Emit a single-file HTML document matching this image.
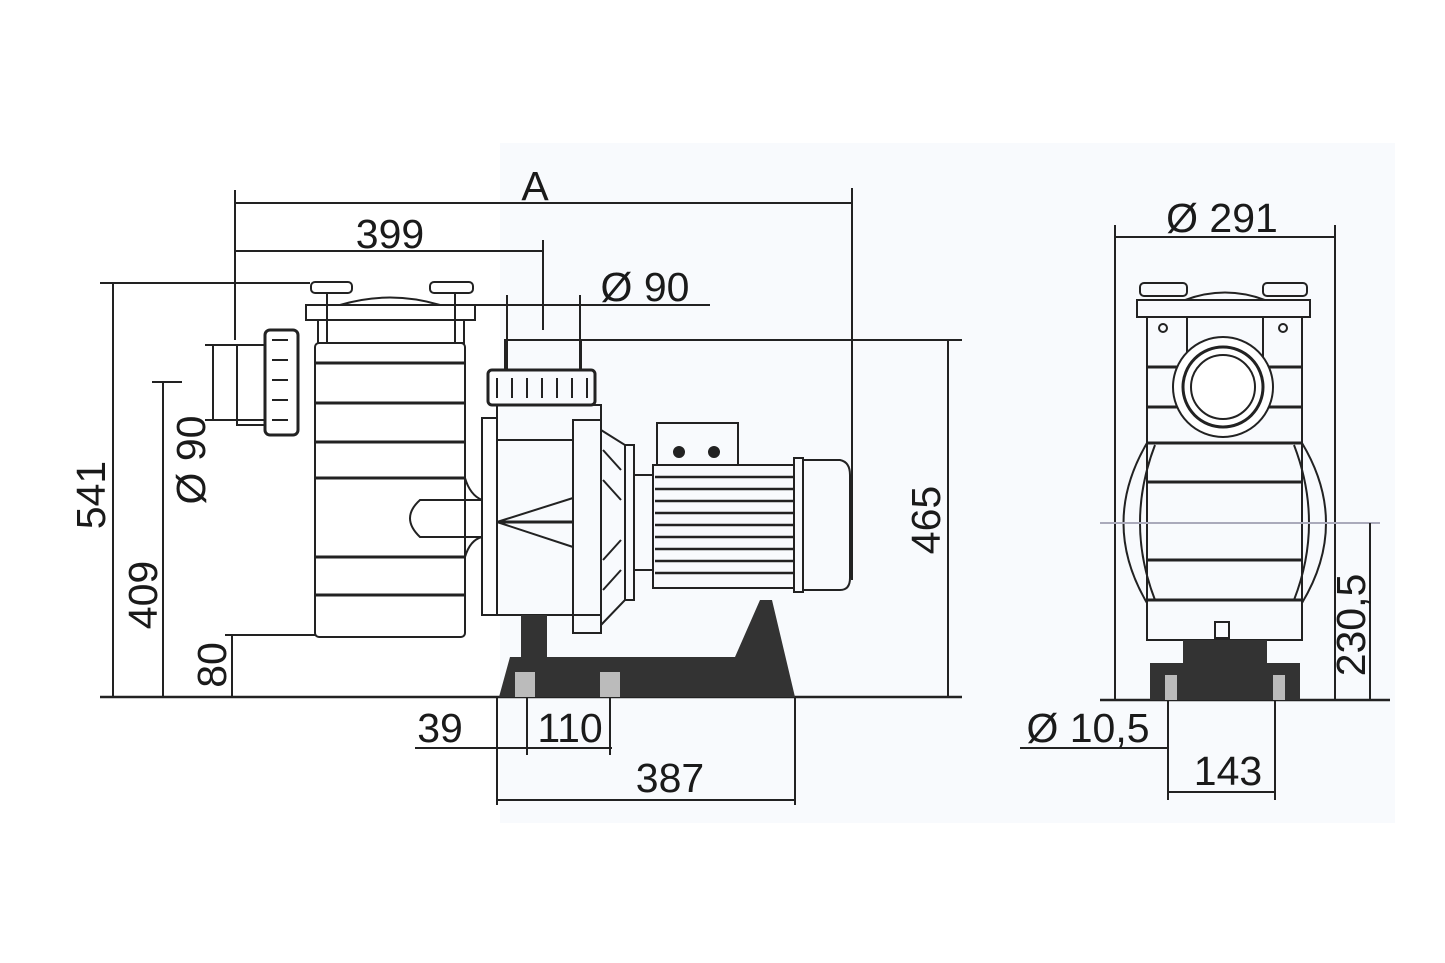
<!DOCTYPE html>
<html><head><meta charset="utf-8"><style>
html,body{margin:0;padding:0;background:#fff}
svg{display:block}
text{font-family:"Liberation Sans",Arial,sans-serif;fill:#1a1a1a;font-size:41px}
</style></head><body>
<svg width="1445" height="963" viewBox="0 0 1445 963" xmlns="http://www.w3.org/2000/svg">
<rect x="500" y="143" width="895" height="680" fill="#f8fafd"/>
<g stroke="#222" stroke-width="2" fill="none">
<line x1="235" y1="203" x2="852" y2="203"/>
<line x1="235" y1="190" x2="235" y2="340"/>
<line x1="852" y1="188" x2="852" y2="580"/>
<line x1="235" y1="251" x2="543" y2="251"/>
<line x1="543" y1="240" x2="543" y2="330"/>
<line x1="415" y1="305" x2="710" y2="305"/>
<line x1="507" y1="295" x2="507" y2="370"/>
<line x1="580" y1="295" x2="580" y2="370"/>
<line x1="100" y1="283" x2="310" y2="283"/>
<line x1="113" y1="283" x2="113" y2="697"/>
<line x1="205" y1="345" x2="265" y2="345"/>
<line x1="205" y1="420" x2="265" y2="420"/>
<line x1="213" y1="345" x2="213" y2="420"/>
<line x1="152" y1="382" x2="182" y2="382"/>
<line x1="163" y1="382" x2="163" y2="697"/>
<line x1="225" y1="635" x2="315" y2="635"/>
<line x1="232" y1="635" x2="232" y2="697"/>
<line x1="580" y1="340" x2="962" y2="340"/>
<line x1="948" y1="340" x2="948" y2="697"/>
<line x1="100" y1="697" x2="962" y2="697" stroke-width="2.5"/>
<line x1="415" y1="748" x2="612" y2="748"/>
<line x1="527" y1="697" x2="527" y2="755"/>
<line x1="610" y1="697" x2="610" y2="755"/>
<line x1="497" y1="697" x2="497" y2="805"/>
<line x1="795" y1="697" x2="795" y2="805"/>
<line x1="497" y1="800" x2="795" y2="800"/>
<rect x="311" y="282" width="41" height="11" rx="4"/>
<rect x="430" y="282" width="43" height="11" rx="4"/>
<path d="M306 305 H475 V320 H306 Z"/>
<path d="M340 305 Q390 290 440 305"/>
<rect x="318" y="320" width="146" height="23"/>
<line x1="327" y1="293" x2="327" y2="343"/><line x1="455" y1="293" x2="455" y2="343"/>
<rect x="315" y="343" width="150" height="294" rx="4"/>
<g stroke-width="3">
<line x1="315" y1="363" x2="465" y2="363"/><line x1="315" y1="403" x2="465" y2="403"/>
<line x1="315" y1="442" x2="465" y2="442"/><line x1="315" y1="478" x2="465" y2="478"/>
<line x1="315" y1="557" x2="465" y2="557"/><line x1="315" y1="595" x2="465" y2="595"/>
</g>
<rect x="237" y="345" width="28" height="80"/>
<rect x="265" y="330" width="33" height="105" rx="5" stroke-width="3"/>
<path d="M272 340 h16 M272 360 h16 M272 380 h16 M272 400 h16 M272 420 h16"/>
<path d="M482 500 H420 Q400 518 420 537 H482"/>
<path d="M465 478 Q470 495 482 500 M465 557 Q470 540 482 537"/>
<rect x="505" y="340" width="76" height="30"/>
<rect x="488" y="370" width="107" height="35" rx="4" stroke-width="3"/>
<path d="M497 378 v20 M512 378 v20 M527 378 v20 M542 378 v20 M557 378 v20 M572 378 v20 M587 378 v20"/>
<rect x="497" y="405" width="104" height="210"/>
<rect x="482" y="418" width="15" height="197"/>
<line x1="497" y1="440" x2="573" y2="440"/>
<line x1="497" y1="522" x2="573" y2="498"/>
<line x1="497" y1="522" x2="573" y2="547"/>
<line x1="497" y1="522" x2="573" y2="522" stroke-width="3"/>
<rect x="573" y="420" width="28" height="213"/>
<path d="M601 430 L625 445 V600 L601 625"/>
<path d="M603 450 l18 20 M603 480 l18 20 M603 560 l18 -20 M603 590 l18 -20"/>
<rect x="625" y="445" width="9" height="155"/>
<line x1="634" y1="475" x2="653" y2="475"/><line x1="634" y1="570" x2="653" y2="570"/>
<rect x="657" y="423" width="81" height="42"/>
<circle cx="679" cy="452" r="5" fill="#222"/><circle cx="714" cy="452" r="5" fill="#222"/>
<rect x="653" y="465" width="141" height="123"/>
<path d="M655 477 H794 M655 489 H794 M655 501 H794 M655 513 H794 M655 525 H794 M655 537 H794 M655 549 H794 M655 561 H794 M655 573 H794" stroke-width="2.5"/>
<rect x="794" y="458" width="9" height="134"/>
<path d="M803 460 H840 Q850 462 850 475 V578 Q850 590 840 590 H803"/>
</g>
<path d="M521 615 H547 V657 H735 L760 600 H772 L795 697 H499 L510 657 H521 Z" fill="#333"/>
<rect x="515" y="672" width="20" height="25" fill="#bbb"/>
<rect x="600" y="672" width="20" height="25" fill="#bbb"/>
<g stroke="#222" stroke-width="2" fill="none">
<line x1="1115" y1="237" x2="1335" y2="237"/>
<line x1="1115" y1="225" x2="1115" y2="700"/>
<line x1="1335" y1="225" x2="1335" y2="700"/>
<rect x="1140" y="283" width="47" height="13" rx="4"/>
<rect x="1263" y="283" width="44" height="13" rx="4"/>
<rect x="1137" y="300" width="173" height="17"/>
<path d="M1185 300 Q1225 285 1265 300"/>
<rect x="1147" y="317" width="155" height="323"/>
<line x1="1187" y1="317" x2="1187" y2="360"/><line x1="1263" y1="317" x2="1263" y2="360"/>
<circle cx="1163" cy="328" r="4"/><circle cx="1283" cy="328" r="4"/>
<g stroke-width="3">
<line x1="1147" y1="367" x2="1302" y2="367"/><line x1="1147" y1="407" x2="1302" y2="407"/>
<line x1="1147" y1="443" x2="1302" y2="443"/><line x1="1147" y1="482" x2="1302" y2="482"/>
<line x1="1147" y1="560" x2="1302" y2="560"/><line x1="1147" y1="600" x2="1302" y2="600"/>
</g>
<circle cx="1223" cy="387" r="50" fill="#fff"/>
<circle cx="1223" cy="387" r="40" stroke-width="3"/>
<circle cx="1223" cy="387" r="32"/>
<path d="M1147 443 Q1100 523 1147 603"/><path d="M1302 443 Q1350 523 1302 603"/>
<path d="M1155 445 Q1125 523 1155 600"/><path d="M1294 445 Q1324 523 1294 600"/>
<rect x="1215" y="622" width="14" height="16"/>
<line x1="1100" y1="523" x2="1380" y2="523" stroke="#aab"/>
<line x1="1370" y1="523" x2="1370" y2="700"/>
<line x1="1100" y1="700" x2="1390" y2="700" stroke-width="2.5"/>
<line x1="1020" y1="748" x2="1168" y2="748"/>
<line x1="1168" y1="700" x2="1168" y2="800"/>
<line x1="1275" y1="700" x2="1275" y2="800"/>
<line x1="1168" y1="792" x2="1275" y2="792"/>
</g>
<path d="M1183 640 H1267 V663 H1300 V700 H1150 V663 H1183 Z" fill="#333"/>
<rect x="1165" y="675" width="12" height="25" fill="#bbb"/>
<rect x="1273" y="675" width="12" height="25" fill="#bbb"/>
<text x="535" y="200" text-anchor="middle" font-size="36">A</text>
<text x="390" y="248" text-anchor="middle">399</text>
<text x="645" y="301" text-anchor="middle">Ø 90</text>
<text transform="translate(105,495) rotate(-90)" text-anchor="middle">541</text>
<text transform="translate(205,460) rotate(-90)" text-anchor="middle">Ø 90</text>
<text transform="translate(157,595) rotate(-90)" text-anchor="middle">409</text>
<text transform="translate(226,665) rotate(-90)" text-anchor="middle">80</text>
<text transform="translate(940,520) rotate(-90)" text-anchor="middle">465</text>
<text x="440" y="742" text-anchor="middle">39</text>
<text x="570" y="742" text-anchor="middle">110</text>
<text x="670" y="792" text-anchor="middle">387</text>
<text x="1222" y="232" text-anchor="middle">Ø 291</text>
<text transform="translate(1365,625) rotate(-90)" text-anchor="middle">230,5</text>
<text x="1088" y="742" text-anchor="middle">Ø 10,5</text>
<text x="1228" y="785" text-anchor="middle">143</text>
</svg>
</body></html>
